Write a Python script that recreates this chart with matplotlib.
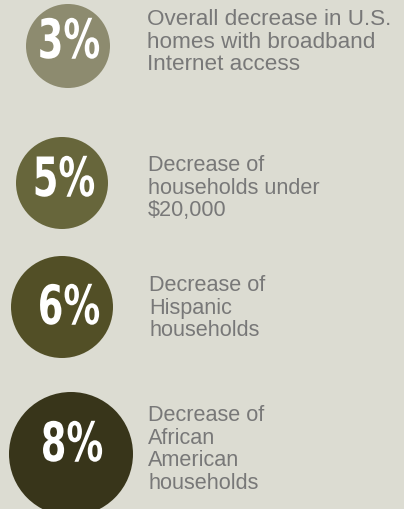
import matplotlib.pyplot as plt
from matplotlib.patches import Circle
from matplotlib.patheffects import AbstractPathEffect
from matplotlib.transforms import Affine2D

# data
percents = [3, 5, 6, 8]
labels = [
    "Overall decrease in U.S.\nhomes with broadband\nInternet access",
    "Decrease of\nhouseholds under\n$20,000",
    "Decrease of\nHispanic\nhouseholds",
    "Decrease of\nAfrican\nAmerican\nhouseholds",
]

# layout (pixels)
cx = [68, 62, 62, 71]
cy = [47, 184, 308, 455]
radius = [42, 46, 51, 62]
circle_colors = ["#8d8b6f", "#67663b", "#524f26", "#38351a"]
pct_x = [69, 64, 69, 72]
pct_y = [44, 182, 310, 447]
text_x = [147, 148, 149, 148]
text_top = [9, 155, 275, 405]
text_size = [16.2, 15.6, 15.6, 15.6]

bg = "#dcdcd2"


class Squeeze(AbstractPathEffect):
    # narrows the glyphs horizontally around a display x position
    def __init__(self, sx, x0):
        super().__init__()
        self.sx = sx
        self.x0 = x0

    def draw_path(self, renderer, gc, tpath, affine, rgbFace=None):
        t = affine + Affine2D().translate(-self.x0, 0).scale(self.sx, 1).translate(self.x0, 0)
        renderer.draw_path(gc, tpath, t, rgbFace)


fig = plt.figure(figsize=(4.04, 5.10), dpi=100)
fig.patch.set_facecolor(bg)
ax = fig.add_axes([0, 0, 1, 1])
ax.set_facecolor(bg)
ax.set_xlim(0, 404)
ax.set_ylim(510, 0)
ax.set_aspect("equal")
ax.axis("off")

for i, p in enumerate(percents):
    ax.add_patch(Circle((cx[i], cy[i]), radius[i], color=circle_colors[i], lw=0))
    x0 = ax.transData.transform((pct_x[i], pct_y[i]))[0]
    ax.text(pct_x[i], pct_y[i], f"{p}%", color="white", ha="center", va="center",
            fontsize=39, fontweight="bold", family="DejaVu Sans",
            path_effects=[Squeeze(0.68, x0)])
    ax.text(text_x[i], text_top[i], labels[i], color="#787878", ha="left", va="top",
            fontsize=text_size[i], family=["Liberation Sans", "DejaVu Sans"],
            linespacing=1.1)

fig.savefig("out.png", dpi=100, facecolor=bg)
